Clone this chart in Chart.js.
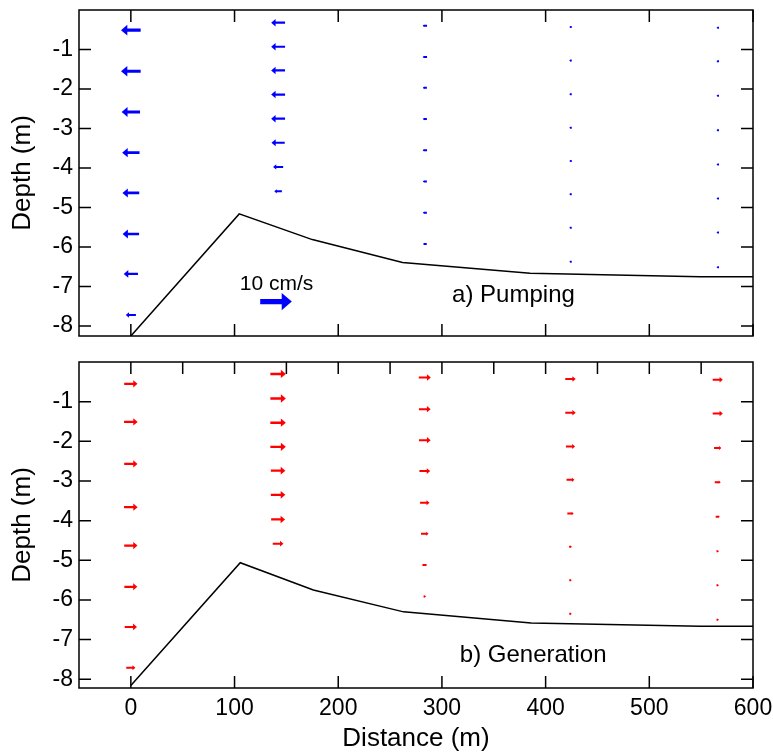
<!DOCTYPE html>
<html lang="en">
<head>
<meta charset="UTF-8">
<title>Velocity profiles: pumping and generation</title>
<script src="https://cdn.jsdelivr.net/npm/chart.js@4"></script>
<style>
  body { margin: 0; background: #fff; }
  canvas { position: absolute; left: 0; }
  #pump { top: 0; }
  #gen { top: 350px; }
</style>
</head>
<body>
<canvas id="pump" width="773" height="350"></canvas>
<canvas id="gen" width="773" height="404"></canvas>
<script>
// profile stations along the transect (m)
const stationX = [0, 142, 283.5, 424, 566];

// bed profile (distance m, depth m)
const bedXPump = [0, 104.5, 175, 262, 385, 549, 600];
const bedYPump = [-8.25, -5.16, -5.81, -6.39, -6.66, -6.75, -6.75];
const bedXGen = [0, 105.5, 176, 263, 386, 549, 600];
const bedYGen = [-8.16, -5.06, -5.75, -6.30, -6.58, -6.66, -6.66];

// sample depths per station (m)
const pumpDepths = [
  [-0.51, -1.55, -2.58, -3.61, -4.63, -5.67, -6.68, -7.72],
  [-0.32, -0.93, -1.53, -2.14, -2.75, -3.36, -3.97, -4.59],
  [-0.40, -1.19, -1.97, -2.76, -3.55, -4.34, -5.13, -5.92],
  [-0.43, -1.28, -2.13, -2.98, -3.82, -4.66, -5.51, -6.37],
  [-0.45, -1.30, -2.17, -3.04, -3.91, -4.77, -5.63, -6.51]
];
const genDepths = [
  [-0.55, -1.51, -2.57, -3.66, -4.63, -5.67, -6.68, -7.71],
  [-0.30, -0.92, -1.53, -2.14, -2.74, -3.35, -3.97, -4.58],
  [-0.39, -1.19, -1.97, -2.75, -3.55, -4.33, -5.12, -5.91],
  [-0.43, -1.28, -2.13, -2.97, -3.82, -4.66, -5.50, -6.35],
  [-0.45, -1.30, -2.17, -3.03, -3.90, -4.77, -5.63, -6.50]
];

// horizontal velocity (cm/s), negative = towards the left
const pumpSpeed = [
  [-6.2, -6.2, -5.8, -5.5, -5.3, -5.2, -4.5, -3.2],
  [-4.4, -4.4, -4.4, -4.4, -4.4, -4.2, -3.2, -2.4],
  [-1.4, -1.4, -1.3, -1.3, -1.4, -1.3, -1.3, -1.2],
  [-0.7, -0.8, -0.6, -0.8, -0.6, -0.7, -0.7, -0.6],
  [-0.7, -0.8, -0.7, -0.7, -0.8, -0.3, -0.6, -0.5]
];
const genSpeed = [
  [4.2, 4.3, 4.2, 4.3, 4.2, 4.1, 3.9, 2.9],
  [4.9, 4.9, 4.9, 4.9, 4.6, 4.6, 4.4, 3.4],
  [3.8, 3.7, 3.7, 3.4, 3.0, 2.4, 1.5, 0.6],
  [3.3, 3.3, 2.9, 2.5, 2.0, 0.9, 0.5, 0.5],
  [3.2, 3.2, 2.3, 1.9, 1.3, 0.4, 0.8, 0.7]
];

// reference arrow
const refSpeed = 10;
const refLabel = '10 cm/s';

// axis ticks
const xTicks = [0, 100, 200, 300, 400, 500, 600];
const xMinorTicks = [0, 50, 100, 150, 200, 250, 300, 350, 400, 450, 500, 550];
const yTicks = [-8, -7, -6, -5, -4, -3, -2, -1];

const FONT = '"Liberation Sans", Arial, Helvetica, sans-serif';
const M_PER_CMS = 3.05;   // arrow length: metres of x axis per cm/s
const TICK = 12;

function drawArrow(ctx, cx, cy, L, dir, color) {
  L = Math.max(L, 2.5);
  const t = Math.max(0.16 * L, 2);
  const h = Math.min(L, Math.max(0.32 * L, 1.5));
  const w = Math.max(0.27 * L, t / 2 + 0.3);
  const tail = cx - dir * L / 2, tip = cx + dir * L / 2, base = tip - dir * h;
  ctx.fillStyle = color;
  ctx.beginPath();
  ctx.moveTo(tail, cy - t / 2);
  ctx.lineTo(base, cy - t / 2);
  ctx.lineTo(base, cy - w);
  ctx.lineTo(tip, cy);
  ctx.lineTo(base, cy + w);
  ctx.lineTo(base, cy + t / 2);
  ctx.lineTo(tail, cy + t / 2);
  ctx.closePath();
  ctx.fill();
}

const arrowPlugin = {
  id: 'arrows',
  afterDatasetsDraw(chart) {
    const ctx = chart.ctx, xs = chart.scales.x;
    ctx.save();
    chart.data.datasets.forEach((ds, i) => {
      if (!ds.arrowColor) return;
      chart.getDatasetMeta(i).data.forEach((pt, j) => {
        const d = ds.data[j];
        const L = Math.abs(xs.getPixelForValue(d.x + d.u * M_PER_CMS) - xs.getPixelForValue(d.x));
        drawArrow(ctx, pt.x, pt.y, L, Math.sign(d.u), ds.arrowColor);
      });
    });
    ctx.restore();
  }
};

function framePlugin(topTicks, notes) {
  return {
    id: 'frame',
    afterDraw(chart) {
      const { ctx, chartArea: a, scales: { x, y } } = chart;
      ctx.save();
      ctx.strokeStyle = '#000';
      ctx.lineWidth = 1.5;
      ctx.strokeRect(a.left, a.top, a.right - a.left, a.bottom - a.top);
      ctx.beginPath();
      topTicks.forEach(v => {
        const p = x.getPixelForValue(v);
        ctx.moveTo(p, a.top); ctx.lineTo(p, a.top + TICK);
      });
      xTicks.forEach(v => {
        const p = x.getPixelForValue(v);
        ctx.moveTo(p, a.bottom); ctx.lineTo(p, a.bottom - TICK);
      });
      yTicks.forEach(v => {
        const p = y.getPixelForValue(v);
        ctx.moveTo(a.left, p); ctx.lineTo(a.left + TICK, p);
        ctx.moveTo(a.right, p); ctx.lineTo(a.right - TICK, p);
      });
      ctx.stroke();
      ctx.fillStyle = '#000';
      ctx.textAlign = 'center';
      ctx.textBaseline = 'middle';
      notes.forEach(n => {
        ctx.font = n.size + 'px ' + FONT;
        ctx.fillText(n.text, x.getPixelForValue(n.x), y.getPixelForValue(n.y));
      });
      ctx.restore();
    }
  };
}

function arrowSets(depths, speeds, color) {
  return stationX.map((sx, k) => ({
    data: depths[k].map((d, i) => ({ x: sx, y: d, u: speeds[k][i] })),
    arrowColor: color,
    pointRadius: 0,
    showLine: false
  }));
}

function bedSet(xs, ys) {
  return {
    data: xs.map((v, i) => ({ x: v, y: ys[i] })),
    showLine: true,
    borderColor: '#000',
    borderWidth: 1.5,
    pointRadius: 0,
    fill: false
  };
}

function noEdgePadding(s) {
  s.paddingLeft = 0;
  s.paddingRight = 0;
  s.paddingTop = 0;
  s.paddingBottom = 0;
}

function makeChart(id, datasets, cfg) {
  return new Chart(document.getElementById(id), {
    type: 'scatter',
    data: { datasets },
    options: {
      responsive: false,
      animation: false,
      devicePixelRatio: 1,
      layout: { padding: { top: cfg.padTop, right: 20, bottom: 0, left: 0 } },
      plugins: { legend: { display: false }, tooltip: { enabled: false } },
      scales: {
        x: {
          type: 'linear', min: -50, max: 600,
          grid: { display: false, drawTicks: false },
          border: { display: false },
          afterBuildTicks: s => { s.ticks = xTicks.map(v => ({ value: v })); },
          ticks: { display: cfg.showX, padding: 7, color: '#000', font: { family: FONT, size: 23 } },
          title: { display: cfg.showX, text: 'Distance (m)', color: '#000',
                   font: { family: FONT, size: 26 }, padding: { top: 0, bottom: 0 } },
          afterFit: s => { s.height = cfg.xHeight; noEdgePadding(s); }
        },
        y: {
          type: 'linear', min: cfg.yMin, max: 0,
          grid: { display: false, drawTicks: false },
          border: { display: false },
          afterBuildTicks: s => { s.ticks = yTicks.map(v => ({ value: v })); },
          ticks: { padding: 6, color: '#000', font: { family: FONT, size: 23 } },
          title: { display: true, text: 'Depth (m)', color: '#000',
                   font: { family: FONT, size: 26 }, padding: { top: 7, bottom: 0 } },
          afterFit: s => { s.width = 79; noEdgePadding(s); }
        }
      }
    },
    plugins: [arrowPlugin, framePlugin(cfg.topTicks, cfg.notes)]
  });
}

const pumpSets = [bedSet(bedXPump, bedYPump)]
  .concat(arrowSets(pumpDepths, pumpSpeed, '#0000ff'))
  .concat([{ data: [{ x: 140, y: -7.38, u: refSpeed }], arrowColor: '#0000ff', pointRadius: 0 }]);

makeChart('pump', pumpSets, {
  padTop: 10, xHeight: 14, yMin: -8.25, showX: false, topTicks: xTicks,
  notes: [
    { text: refLabel, x: 140.5, y: -6.93, size: 21 },
    { text: 'a) Pumping', x: 369, y: -7.21, size: 24 }
  ]
});

const genSets = [bedSet(bedXGen, bedYGen)].concat(arrowSets(genDepths, genSpeed, '#ff0000'));

makeChart('gen', genSets, {
  padTop: 12, xHeight: 66, yMin: -8.22, showX: true, topTicks: xMinorTicks,
  notes: [
    { text: 'b) Generation', x: 388, y: -7.39, size: 24 }
  ]
});
</script>
</body>
</html>
